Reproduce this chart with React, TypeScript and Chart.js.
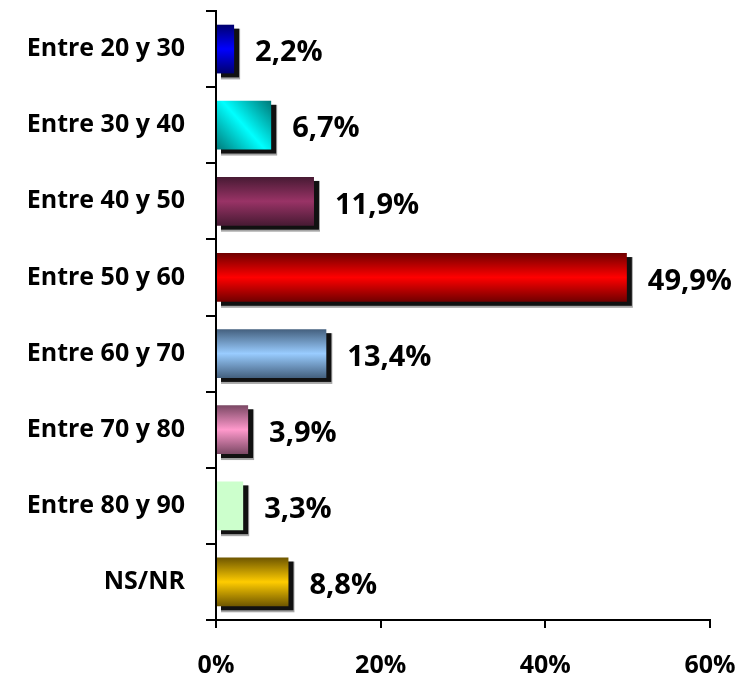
import React, { useEffect, useRef } from "react";
import { Chart, registerables } from "chart.js";

Chart.register(...registerables);

const categories = [
  "Entre 20 y 30",
  "Entre 30 y 40",
  "Entre 40 y 50",
  "Entre 50 y 60",
  "Entre 60 y 70",
  "Entre 70 y 80",
  "Entre 80 y 90",
  "NS/NR",
];
const values = [2.2, 6.7, 11.9, 49.9, 13.4, 3.9, 3.3, 8.8];
const xTicks = [0, 20, 40, 60];

// [edge colour, centre colour, direction]
const barStyles: [string, string, string][] = [
  ["#00006e", "#0000ff", "v"],
  ["#007878", "#00ffff", "d"],
  ["#471a33", "#993366", "v"],
  ["#700000", "#ff0000", "v"],
  ["#44607e", "#99ccff", "v"],
  ["#7a4864", "#ff99cc", "v"],
  ["#ccffcc", "#ccffcc", "v"],
  ["#6e5600", "#ffcc00", "v"],
];

const FONT = "'Open Sans', 'Noto Sans', sans-serif";
const fmt = (v: number) => v.toFixed(1).replace(".", ",") + "%";

export default function App() {
  const ref = useRef<HTMLCanvasElement | null>(null);

  useEffect(() => {
    if (!ref.current) return;

    const shadowPlugin = {
      id: "barShadow",
      beforeDatasetsDraw(chart: any) {
        const ctx = chart.ctx;
        const meta = chart.getDatasetMeta(0);
        ctx.save();
        meta.data.forEach((el: any) => {
          const { x, y, base, height } = el.getProps(["x", "y", "base", "height"], true);
          ctx.fillStyle = "rgba(0,0,0,0.35)";
          ctx.fillRect(base + 4, y - height / 2 + 4, x - base + 2, height + 2);
          ctx.fillStyle = "#111";
          ctx.fillRect(base + 4, y - height / 2 + 4, x - base + 1, height);
        });
        ctx.restore();
      },
    };

    const labelPlugin = {
      id: "valueLabels",
      afterDatasetsDraw(chart: any) {
        const ctx = chart.ctx;
        const meta = chart.getDatasetMeta(0);
        ctx.save();
        ctx.font = `bold 29px ${FONT}`;
        ctx.fillStyle = "#000";
        ctx.textAlign = "left";
        ctx.textBaseline = "middle";
        meta.data.forEach((el: any, i: number) => {
          const { x, y } = el.getProps(["x", "y"], true);
          ctx.fillText(fmt(values[i]), x + 21, y + 4);
        });
        ctx.restore();
      },
    };

    const bg = (c: any) => {
      const chart = c.chart;
      const i = c.dataIndex;
      const st = barStyles[i];
      if (i === undefined || !st) return "#999";
      const ys = chart.scales?.y;
      const xs = chart.scales?.x;
      if (!ys || !xs) return st[1];
      const band = ys.height / categories.length;
      const half = (band * 0.64) / 2;
      const cy = ys.getPixelForValue(i);
      const x0 = xs.getPixelForValue(0);
      const x1 = xs.getPixelForValue(values[i]);
      if (![band, half, cy, x0, x1].every((v) => Number.isFinite(v)) || half <= 0) return st[1];
      const g0 = chart.ctx;
      let grad;
      if (st[2] === "d") {
        grad = g0.createLinearGradient(x0, cy + half, x1, cy - half);
      } else {
        grad = g0.createLinearGradient(0, cy - half, 0, cy + half);
      }
      grad.addColorStop(0, st[0]);
      grad.addColorStop(0.5, st[1]);
      grad.addColorStop(1, st[0]);
      return grad;
    };

    const chart = new Chart(ref.current, {
      type: "bar",
      data: {
        labels: categories,
        datasets: [
          {
            data: values,
            backgroundColor: bg as any,
            borderWidth: 0,
            barPercentage: 0.64,
            categoryPercentage: 1,
          },
        ],
      },
      plugins: [shadowPlugin, labelPlugin],
      options: {
        indexAxis: "y",
        animation: false,
        responsive: false,
        layout: { padding: { top: 11, right: 30, left: 0, bottom: 0 } },
        plugins: { legend: { display: false }, tooltip: { enabled: false } },
        scales: {
          x: {
            type: "linear",
            min: 0,
            max: 60,
            afterBuildTicks: (s: any) => {
              s.ticks = xTicks.map((v) => ({ value: v }));
            },
            afterFit: (s: any) => {
              s.height = 57;
              s.paddingLeft = 0;
              s.paddingRight = 0;
            },
            ticks: {
              callback: (v: any) => v + "%",
              color: "#000",
              font: { family: FONT, size: 25, weight: "bold" },
              padding: 23,
              maxRotation: 0,
            },
            grid: {
              drawOnChartArea: false,
              drawTicks: true,
              tickLength: 8,
              color: "#000",
              lineWidth: 2,
            },
            border: { color: "#000", width: 2 },
          },
          y: {
            afterFit: (s: any) => {
              s.width = 216;
              s.paddingTop = 0;
              s.paddingBottom = 0;
            },
            ticks: {
              color: "#000",
              font: { family: FONT, size: 25, weight: "bold" },
              padding: 21,
            },
            grid: {
              drawOnChartArea: false,
              drawTicks: true,
              tickLength: 10,
              color: "#000",
              lineWidth: 2,
              offset: true,
            },
            border: { color: "#000", width: 2 },
          },
        },
      },
    } as any);

    return () => chart.destroy();
  }, []);

  return (
    <div style={{ position: "fixed", left: 0, top: 0, width: 740, height: 677, background: "#fff" }}>
      <canvas ref={ref} width={740} height={677} style={{ display: "block" }} />
    </div>
  );
}
